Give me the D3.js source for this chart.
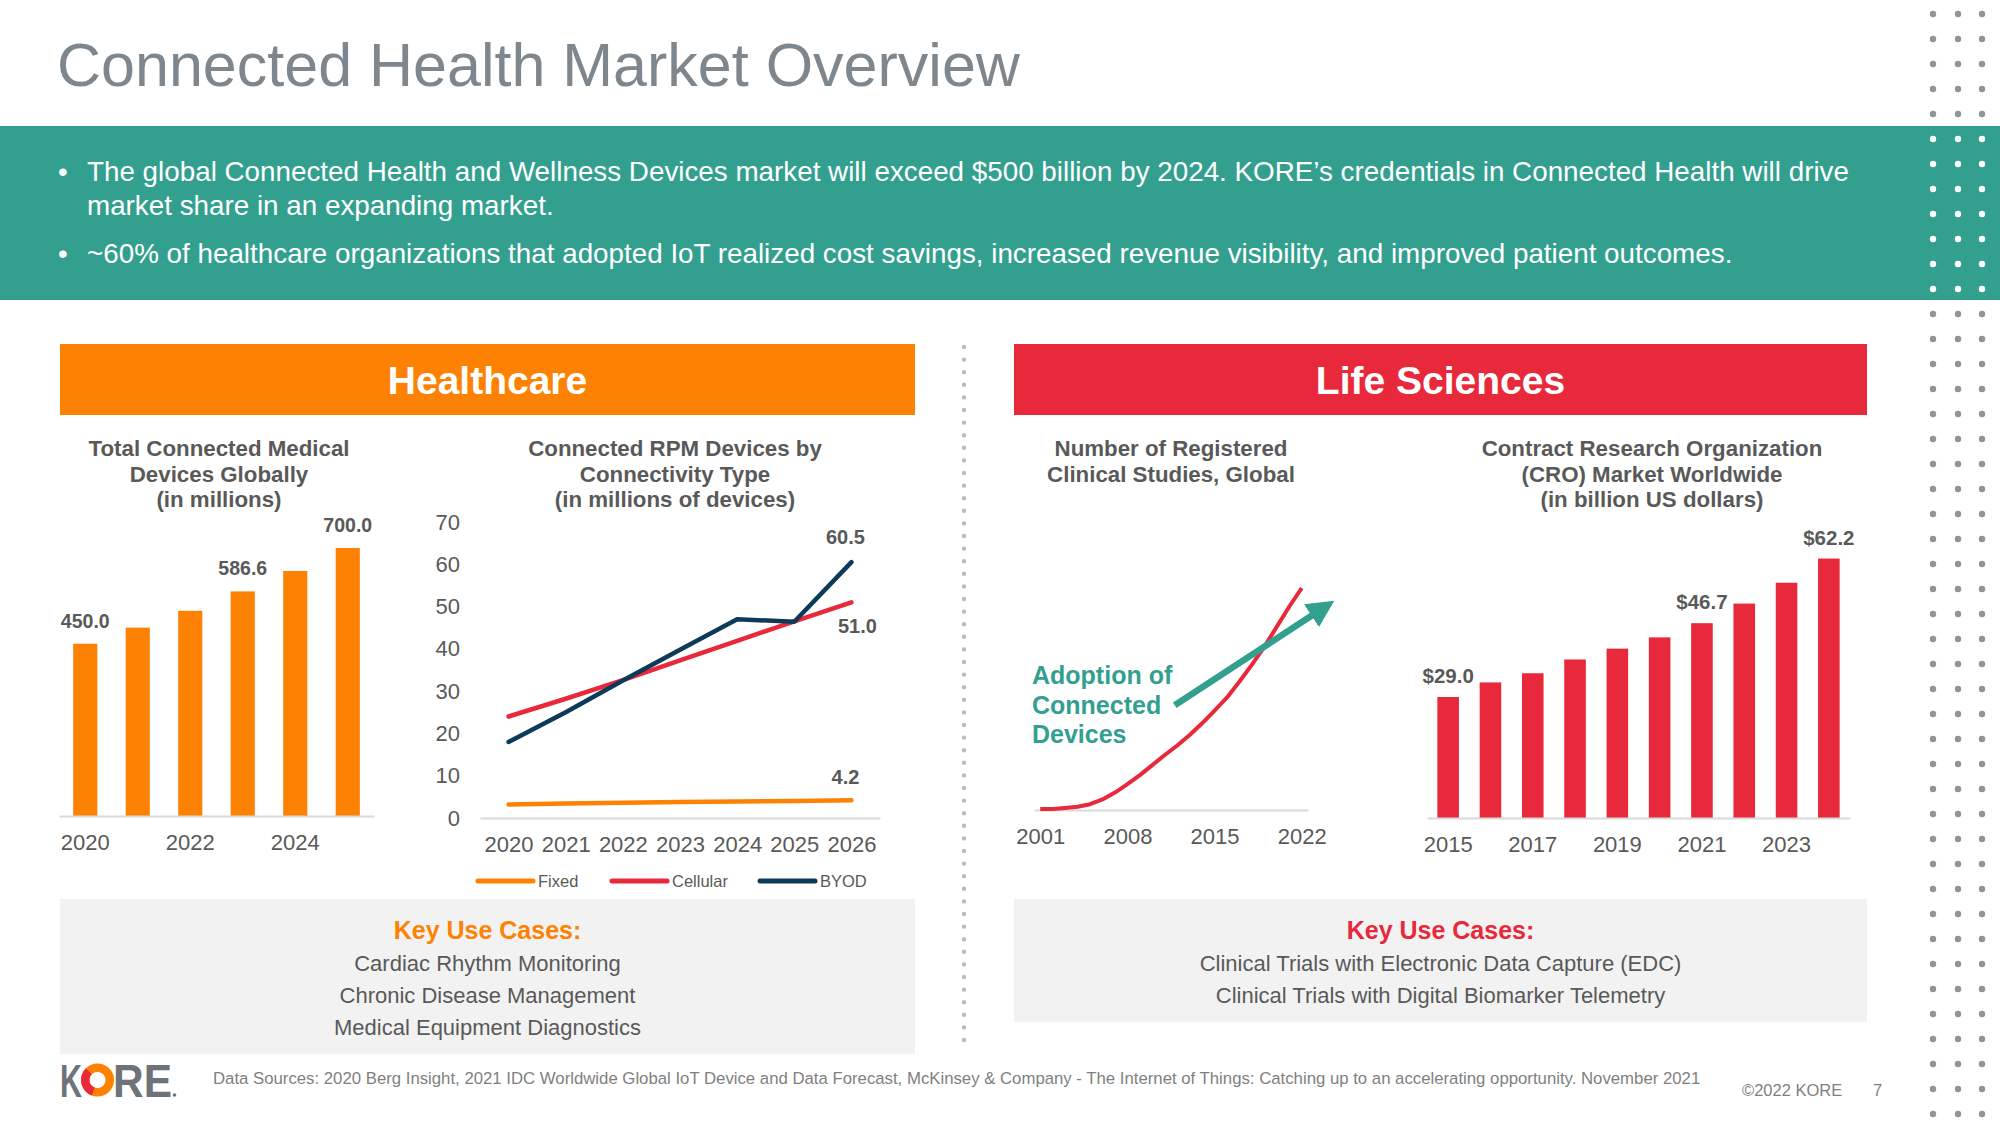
<!DOCTYPE html>
<html><head><meta charset="utf-8">
<script src="https://cdn.jsdelivr.net/npm/d3@7"></script>
<style>
html,body{margin:0;padding:0;background:#fff;}
svg{display:block;font-family:"Liberation Sans",Arial,sans-serif;}
</style></head><body>
<svg id="c" width="2000" height="1125"></svg>
<script>
// ---------- DATA ----------
const pageTitle = "Connected Health Market Overview";
const bulletLines = [
  ["The global Connected Health and Wellness Devices market will exceed $500 billion by 2024. KORE\u2019s credentials in Connected Health will drive", "market share in an expanding market."],
  ["~60% of healthcare organizations that adopted IoT realized cost savings, increased revenue visibility, and improved patient outcomes."]
];

const deviceTitle = ["Total Connected Medical", "Devices Globally", "(in millions)"];
const deviceYears = ["2020", "2021", "2022", "2023", "2024", "2025"];
const deviceValues = [450.0, 492, 536, 586.6, 640, 700.0];
const deviceTickLabels = ["2020", "2022", "2024"];
const deviceLabelled = ["2020", "2023", "2025"];

const rpmTitle = ["Connected RPM Devices by", "Connectivity Type", "(in millions of devices)"];
const rpmYears = ["2020", "2021", "2022", "2023", "2024", "2025", "2026"];
const rpmFixed = [3.2, 3.4, 3.6, 3.8, 3.9, 4.0, 4.2];
const rpmCellular = [24.0, 28.2, 32.6, 37.3, 41.9, 46.5, 51.0];
const rpmByod = [18.0, 25.0, 32.5, 39.8, 47.0, 46.4, 60.5];
const rpmTicks = [0, 10, 20, 30, 40, 50, 60, 70];
const rpmSeriesNames = ["Fixed", "Cellular", "BYOD"];

const studyTitle = ["Number of Registered", "Clinical Studies, Global"];
const studyYears = ["2001","2002","2003","2004","2005","2006","2007","2008","2009","2010","2011",
                    "2012","2013","2014","2015","2016","2017","2018","2019","2020","2021","2022"];
const studyValues = [2, 2, 4, 6, 11, 20, 33, 49, 66, 85, 104, 122, 142, 164, 188, 213, 243, 275, 309, 347, 385, 420];
const studyTickLabels = ["2001", "2008", "2015", "2022"];
const adoptionText = ["Adoption of", "Connected", "Devices"];
const adoptionArrow = [[2011.8, 198], [2024.5, 394]]; // [year, value] in chart space

const croTitle = ["Contract Research Organization", "(CRO) Market Worldwide", "(in billion US dollars)"];
const croYears = ["2015","2016","2017","2018","2019","2020","2021","2022","2023","2024"];
const croValues = [29.0, 32.5, 34.7, 38.0, 40.6, 43.3, 46.7, 51.4, 56.4, 62.2];
const croTickLabels = ["2015", "2017", "2019", "2021", "2023"];
const croLabelled = ["2015", "2021", "2024"];

const healthcareUseCases = ["Cardiac Rhythm Monitoring", "Chronic Disease Management", "Medical Equipment Diagnostics"];
const lifeUseCases = ["Clinical Trials with Electronic Data Capture (EDC)", "Clinical Trials with Digital Biomarker Telemetry"];
const sourcesText = "Data Sources: 2020 Berg Insight, 2021 IDC Worldwide Global IoT Device and Data Forecast, McKinsey & Company - The Internet of Things: Catching up to an accelerating opportunity. November 2021";

// ---------- STYLE ----------
const ORANGE = "#fd8204", RED = "#e8283b", TEAL = "#33a08f", NAVY = "#0e3a5a";
const TXT = "#595959", AXIS = "#d9d9d9", BOX = "#f2f2f2";

const svg = d3.select("#c");

// ---------- HEADER ----------
svg.append("text").attr("x", 57).attr("y", 86).attr("font-size", 61).attr("fill", "#7d878d").text(pageTitle);
svg.append("rect").attr("x", 0).attr("y", 126).attr("width", 2000).attr("height", 174).attr("fill", TEAL);
const bulletY = [[181, 215], [263]];
bulletLines.forEach((lines, i) => {
  svg.append("text").attr("x", 58).attr("y", bulletY[i][0]).attr("font-size", 27.8).attr("fill", "#fff").text("\u2022");
  lines.forEach((l, j) => svg.append("text").attr("x", 87).attr("y", bulletY[i][j]).attr("font-size", 27.8).attr("fill", "#fff").text(l));
});

// right dot grid
const dotCols = [1933, 1958, 1982];
d3.range(45).forEach(r => {
  const y = 14 + r * 25;
  dotCols.forEach(x => svg.append("circle").attr("cx", x).attr("cy", y).attr("r", 3.2)
    .attr("fill", (y > 126 && y < 300) ? "#ffffff" : "#8c959b"));
});

// section headers
function sectionHeader(x, w, color, label) {
  svg.append("rect").attr("x", x).attr("y", 344).attr("width", w).attr("height", 71).attr("fill", color);
  svg.append("text").attr("x", x + w / 2).attr("y", 394).attr("text-anchor", "middle")
    .attr("font-size", 39).attr("font-weight", "bold").attr("fill", "#fff").text(label);
}
sectionHeader(60, 855, ORANGE, "Healthcare");
sectionHeader(1014, 853, RED, "Life Sciences");

// dotted separator
d3.range(347, 1042, 12.6).forEach(y => svg.append("circle").attr("cx", 964).attr("cy", y).attr("r", 2.2).attr("fill", "#b7bcc0"));

function chartTitle(cx, lines) {
  lines.forEach((l, i) => svg.append("text").attr("x", cx).attr("y", 456 + i * 25.5).attr("text-anchor", "middle")
    .attr("font-size", 22.3).attr("font-weight", "bold").attr("fill", TXT).text(l));
}
function styleAxis(g) {
  g.select(".domain").attr("stroke", AXIS).attr("stroke-width", 2);
  g.selectAll("text").attr("font-size", 22).attr("fill", TXT).attr("font-family", "Liberation Sans, Arial, sans-serif");
}

// ---------- CHART 1: bars ----------
chartTitle(219, deviceTitle);
const x1 = d3.scaleBand().domain(deviceYears).range([59, 374]).paddingInner(0.54).paddingOuter(0.27);
const y1 = d3.scaleLinear().domain([0, 700]).range([816, 548]);
svg.append("g").selectAll("rect").data(deviceYears).join("rect")
  .attr("x", d => x1(d)).attr("width", x1.bandwidth())
  .attr("y", (d, i) => y1(deviceValues[i])).attr("height", (d, i) => y1(0) - y1(deviceValues[i]))
  .attr("fill", ORANGE);
const ax1 = svg.append("g").attr("transform", "translate(0,816)")
  .call(d3.axisBottom(x1).tickValues(deviceTickLabels).tickSize(0).tickPadding(18));
styleAxis(ax1);
deviceYears.forEach((d, i) => {
  if (!deviceLabelled.includes(d)) return;
  svg.append("text").attr("x", x1(d) + x1.bandwidth() / 2).attr("y", y1(deviceValues[i]) - 16)
    .attr("text-anchor", "middle").attr("font-size", 19.5).attr("font-weight", "bold").attr("fill", TXT)
    .text(deviceValues[i].toFixed(1));
});

// ---------- CHART 2: lines ----------
chartTitle(675, rpmTitle);
const x2 = d3.scalePoint().domain(rpmYears).range([480, 880]).padding(0.5);
const y2 = d3.scaleLinear().domain([0, 70]).range([818, 522]);
const ax2 = svg.append("g").attr("transform", "translate(0,818)")
  .call(d3.axisBottom(x2).tickSize(0).tickPadding(18));
styleAxis(ax2);
const ay2 = svg.append("g").attr("transform", "translate(480,0)")
  .call(d3.axisLeft(y2).tickValues(rpmTicks).tickSize(0).tickPadding(20));
styleAxis(ay2);
ay2.select(".domain").remove();
const rpmSeries = [rpmFixed, rpmCellular, rpmByod];
const rpmColors = [ORANGE, RED, NAVY];
const line2 = d3.line().x((d, i) => x2(rpmYears[i])).y(d => y2(d));
rpmSeries.forEach((s, k) => svg.append("path").datum(s).attr("d", line2).attr("fill", "none")
  .attr("stroke", rpmColors[k]).attr("stroke-width", 4.5).attr("stroke-linejoin", "round").attr("stroke-linecap", "round"));
const last = rpmYears.length - 1;
const endLabelOffsets = [[-6, -16], [6, 31], [-6, -18]];
rpmSeries.forEach((s, k) => svg.append("text")
  .attr("x", x2(rpmYears[last]) + endLabelOffsets[k][0]).attr("y", y2(s[last]) + endLabelOffsets[k][1])
  .attr("text-anchor", "middle").attr("font-size", 20).attr("font-weight", "bold").attr("fill", TXT)
  .text(s[last].toFixed(1)));
// legend
const legendX = [478, 612, 760];
rpmSeriesNames.forEach((n, k) => {
  svg.append("line").attr("x1", legendX[k]).attr("x2", legendX[k] + 55).attr("y1", 881).attr("y2", 881)
    .attr("stroke", rpmColors[k]).attr("stroke-width", 5).attr("stroke-linecap", "round");
  svg.append("text").attr("x", legendX[k] + 60).attr("y", 887).attr("font-size", 16.5).attr("fill", TXT).text(n);
});

// ---------- CHART 3: clinical studies ----------
chartTitle(1171, studyTitle);
const x3 = d3.scalePoint().domain(studyYears).range([1034, 1308]).padding(0.5);
const x3n = d3.scaleLinear().domain([+studyYears[0], +studyYears[studyYears.length - 1]])
  .range([x3(studyYears[0]), x3(studyYears[studyYears.length - 1])]);
const y3 = d3.scaleLinear().domain([0, 420]).range([810, 588]);
const ax3 = svg.append("g").attr("transform", "translate(0,810)")
  .call(d3.axisBottom(x3).tickValues(studyTickLabels).tickSize(0).tickPadding(18));
styleAxis(ax3);
svg.append("path").datum(studyValues)
  .attr("d", d3.line().x((d, i) => x3(studyYears[i])).y(d => y3(d)))
  .attr("fill", "none").attr("stroke", RED).attr("stroke-width", 4).attr("stroke-linejoin", "round");
// arrow
svg.append("defs").append("marker").attr("id", "ah").attr("viewBox", "0 0 10 10").attr("refX", 5).attr("refY", 5)
  .attr("markerWidth", 4.2).attr("markerHeight", 4.2).attr("orient", "auto")
  .append("path").attr("d", "M0,0 L10,5 L0,10 z").attr("fill", TEAL);
svg.append("line")
  .attr("x1", x3n(adoptionArrow[0][0])).attr("y1", y3(adoptionArrow[0][1]))
  .attr("x2", x3n(adoptionArrow[1][0]) - 10).attr("y2", y3(adoptionArrow[1][1]) + 6.5)
  .attr("stroke", TEAL).attr("stroke-width", 6.5).attr("marker-end", "url(#ah)");
adoptionText.forEach((t, i) => svg.append("text").attr("x", 1032).attr("y", 684 + i * 29.5)
  .attr("font-size", 25).attr("font-weight", "bold").attr("fill", TEAL).text(t));

// ---------- CHART 4: CRO ----------
chartTitle(1652, croTitle);
const x4 = d3.scaleBand().domain(croYears).range([1427, 1850]).paddingInner(0.49).paddingOuter(0.245);
const y4 = d3.scaleLinear().domain([0, 70]).range([818, 526]);
svg.append("g").selectAll("rect").data(croYears).join("rect")
  .attr("x", d => x4(d)).attr("width", x4.bandwidth())
  .attr("y", (d, i) => y4(croValues[i])).attr("height", (d, i) => y4(0) - y4(croValues[i]))
  .attr("fill", RED);
const ax4 = svg.append("g").attr("transform", "translate(0,818)")
  .call(d3.axisBottom(x4).tickValues(croTickLabels).tickSize(0).tickPadding(18));
styleAxis(ax4);
croYears.forEach((d, i) => {
  if (!croLabelled.includes(d)) return;
  svg.append("text").attr("x", x4(d) + x4.bandwidth() / 2).attr("y", y4(croValues[i]) - 14)
    .attr("text-anchor", "middle").attr("font-size", 20.5).attr("font-weight", "bold").attr("fill", TXT)
    .text("$" + croValues[i].toFixed(1));
});

// ---------- USE CASE BOXES ----------
function useCaseBox(x, w, h, color, lines) {
  svg.append("rect").attr("x", x).attr("y", 899).attr("width", w).attr("height", h).attr("fill", BOX);
  svg.append("text").attr("x", x + w / 2).attr("y", 939).attr("text-anchor", "middle").attr("font-size", 25)
    .attr("font-weight", "bold").attr("fill", color).text("Key Use Cases:");
  lines.forEach((l, i) => svg.append("text").attr("x", x + w / 2).attr("y", 971 + i * 32).attr("text-anchor", "middle")
    .attr("font-size", 22).attr("fill", TXT).text(l));
}
useCaseBox(60, 855, 155, ORANGE, healthcareUseCases);
useCaseBox(1014, 853, 123, RED, lifeUseCases);

// ---------- FOOTER ----------
const logo = svg.append("g");
logo.append("text").attr("x", 60).attr("y", 1097).attr("font-size", 47).attr("font-weight", "bold").attr("fill", "#6d7379")
  .attr("textLength", 22).attr("lengthAdjust", "spacingAndGlyphs").text("K");
logo.append("text").attr("x", 113).attr("y", 1097).attr("font-size", 47).attr("font-weight", "bold").attr("fill", "#6d7379")
  .attr("textLength", 59).attr("lengthAdjust", "spacingAndGlyphs").text("RE");
logo.append("circle").attr("cx", 174.5).attr("cy", 1095).attr("r", 1.8).attr("fill", "#6d7379");
logo.append("circle").attr("cx", 97.5).attr("cy", 1080).attr("r", 12.3).attr("fill", "none").attr("stroke", ORANGE).attr("stroke-width", 8.4);
logo.append("path").attr("transform", "translate(97.5,1080)")
  .attr("d", d3.arc().innerRadius(8.1).outerRadius(16.5).startAngle(3.5).endAngle(5.5)()).attr("fill", RED);

svg.append("text").attr("x", 213).attr("y", 1084).attr("font-size", 16.75).attr("fill", "#7f7f7f").text(sourcesText);
svg.append("text").attr("x", 1742).attr("y", 1096).attr("font-size", 16.5).attr("fill", "#7f7f7f").text("\u00a92022 KORE");
svg.append("text").attr("x", 1873).attr("y", 1096).attr("font-size", 16.5).attr("fill", "#7f7f7f").text("7");
</script>
</body></html>
